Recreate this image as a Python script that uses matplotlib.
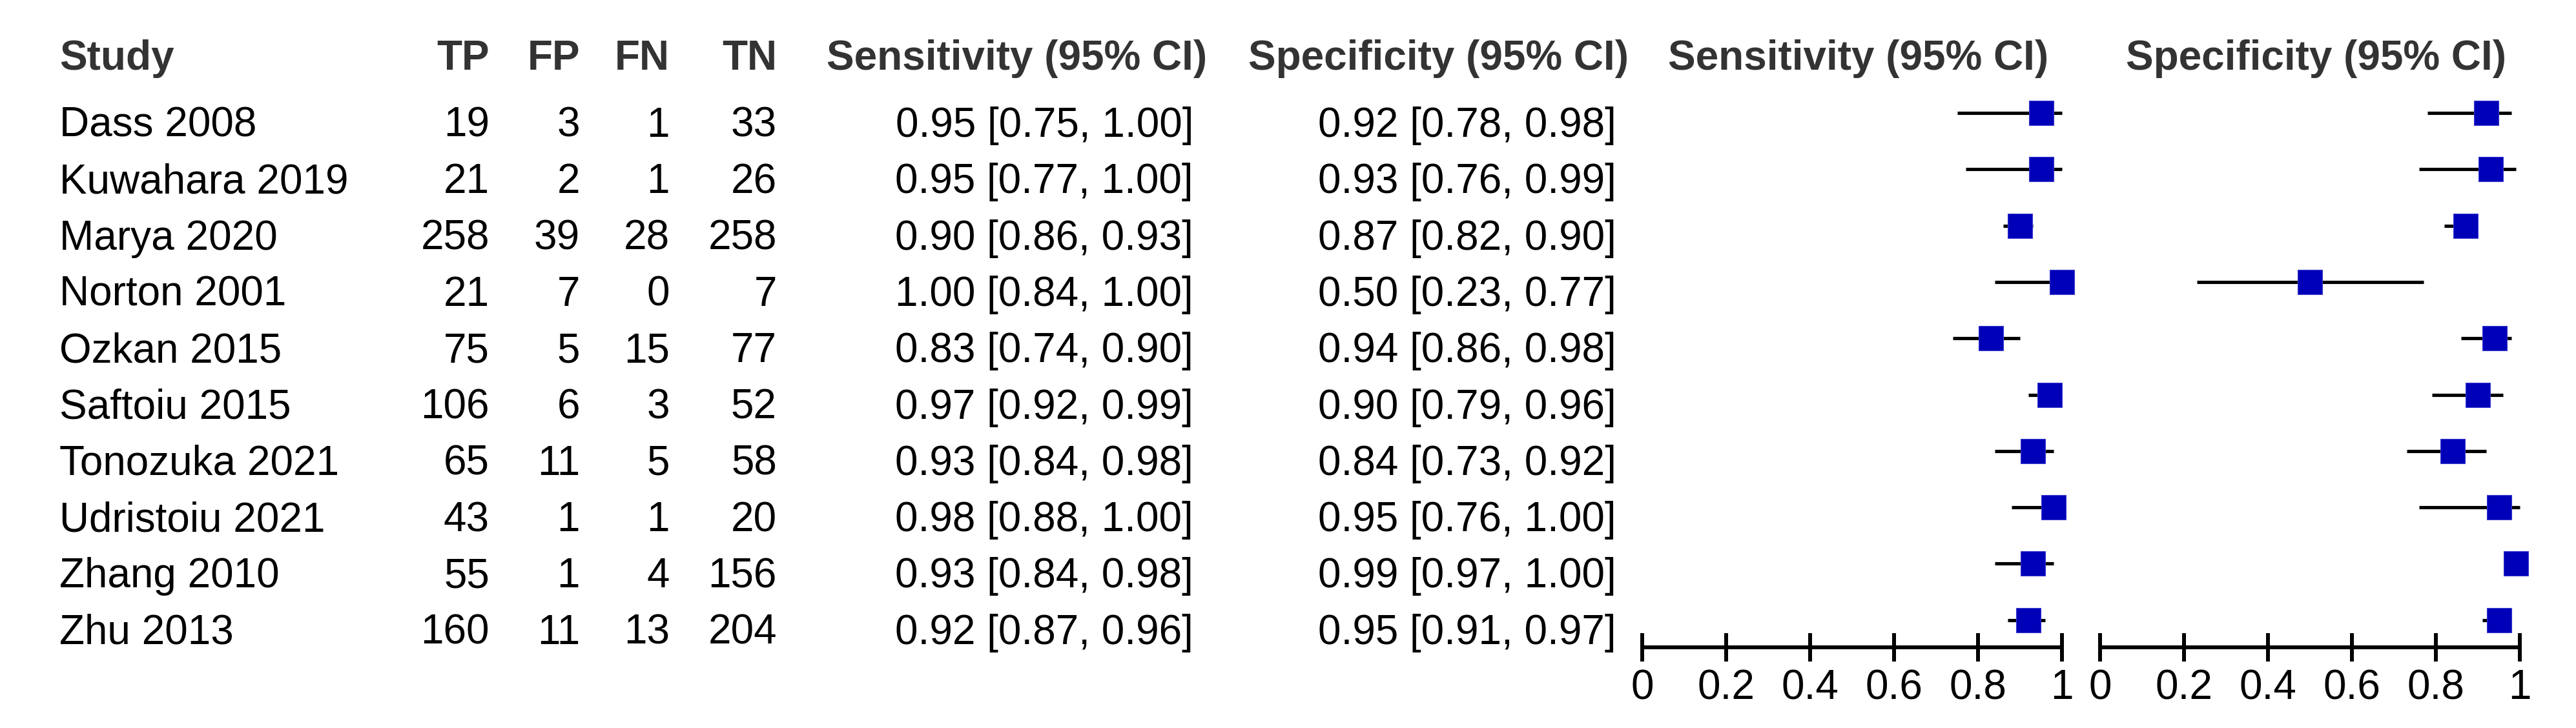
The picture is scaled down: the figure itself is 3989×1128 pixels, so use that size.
import matplotlib
matplotlib.use("Agg")
import matplotlib.pyplot as plt
import matplotlib.ticker as ticker

plt.rcParams['font.family'] = ['Liberation Sans', 'DejaVu Sans']

# data
STUDIES = ['Dass 2008', 'Kuwahara 2019', 'Marya 2020', 'Norton 2001', 'Ozkan 2015',
           'Saftoiu 2015', 'Tonozuka 2021', 'Udristoiu 2021', 'Zhang 2010', 'Zhu 2013']
TP = [19, 21, 258, 21, 75, 106, 65, 43, 55, 160]
FP = [3, 2, 39, 7, 5, 6, 11, 1, 1, 11]
FN = [1, 1, 28, 0, 15, 3, 5, 1, 4, 13]
TN = [33, 26, 258, 7, 77, 52, 58, 20, 156, 204]

SENS = [0.95, 0.95, 0.90, 1.00, 0.83, 0.97, 0.93, 0.98, 0.93, 0.92]
SENS_LO = [0.75, 0.77, 0.86, 0.84, 0.74, 0.92, 0.84, 0.88, 0.84, 0.87]
SENS_HI = [1.00, 1.00, 0.93, 1.00, 0.90, 0.99, 0.98, 1.00, 0.98, 0.96]

SPEC = [0.92, 0.93, 0.87, 0.50, 0.94, 0.90, 0.84, 0.95, 0.99, 0.95]
SPEC_LO = [0.78, 0.76, 0.82, 0.23, 0.86, 0.79, 0.73, 0.76, 0.97, 0.91]
SPEC_HI = [0.98, 0.99, 0.90, 0.77, 0.98, 0.96, 0.92, 1.00, 1.00, 0.97]

TICKS = [0, 0.2, 0.4, 0.6, 0.8, 1]
TICK_LABELS = ['0', '0.2', '0.4', '0.6', '0.8', '1']

W, H = 3989, 1128
DPI = 100
FS = 46
HEADER_COLOR = '#333333'
BOX_COLOR = '#0000b8'

ROW0_MARK = 175.0   # px centre of first forest row
ROW_STEP = 87.3
AXIS_Y = 1003.0     # px of the forest axis line
ROW0_TEXT = 212.0   # baseline of first table row
HEADER_BASE = 108.0


def ci_text(est, lo, hi):
    return f'{est:.2f} [{lo:.2f}, {hi:.2f}]'


fig = plt.figure(figsize=(W / DPI, H / DPI), dpi=DPI)
fig.patch.set_facecolor('white')

# text layer in pixel coordinates
tab = fig.add_axes([0, 0, 1, 1])
tab.set_xlim(0, W)
tab.set_ylim(H, 0)
tab.axis('off')

headers = [
    ('Study', 92, 'left'),
    ('TP', 758, 'right'),
    ('FP', 898, 'right'),
    ('FN', 1037, 'right'),
    ('TN', 1203, 'right'),
    ('Sensitivity (95% CI)', 1280, 'left'),
    ('Specificity (95% CI)', 1933, 'left'),
    ('Sensitivity (95% CI)', 2583, 'left'),
    ('Specificity (95% CI)', 3292, 'left'),
]
for label, x, ha in headers:
    tab.text(x, HEADER_BASE, label, ha=ha, va='baseline', fontsize=FS,
             fontweight='bold', color=HEADER_COLOR)

for i, study in enumerate(STUDIES):
    y = ROW0_TEXT + i * ROW_STEP
    tab.text(92, y, study, ha='left', va='baseline', fontsize=FS)
    for col, x in zip([TP, FP, FN, TN], [758, 898, 1037, 1203]):
        tab.text(x, y, str(col[i]), ha='right', va='baseline', fontsize=FS)
    tab.text(1848, y, ci_text(SENS[i], SENS_LO[i], SENS_HI[i]),
             ha='right', va='baseline', fontsize=FS)
    tab.text(2503, y, ci_text(SPEC[i], SPEC_LO[i], SPEC_HI[i]),
             ha='right', va='baseline', fontsize=FS)


def forest(x0_px, x1_px, est, lo, hi):
    top_px = ROW0_MARK - 0.5 * ROW_STEP
    ax = fig.add_axes([x0_px / W, 1 - AXIS_Y / H,
                       (x1_px - x0_px) / W, (AXIS_Y - top_px) / H])
    ax.set_xlim(0, 1)
    ax.set_ylim((AXIS_Y - ROW0_MARK) / ROW_STEP, -0.5)
    ax.patch.set_alpha(0)
    rows = list(range(len(est)))
    ax.hlines(rows, lo, hi, color='black', linewidth=3.7, clip_on=False, zorder=2)
    ax.plot(est, rows, linestyle='none', marker='s', markersize=27,
            color=BOX_COLOR, markeredgecolor='#3b3bd0', markeredgewidth=0.8,
            clip_on=False, zorder=3)
    for side in ['top', 'left', 'right']:
        ax.spines[side].set_visible(False)
    ax.spines['bottom'].set_linewidth(4.3)
    ax.spines['bottom'].set_capstyle('butt')
    ax.set_yticks([])
    ax.xaxis.set_major_locator(ticker.FixedLocator(TICKS))
    ax.xaxis.set_major_formatter(ticker.FixedFormatter(TICK_LABELS))
    ax.tick_params(axis='x', direction='inout', length=32, width=4.3,
                   labelsize=FS, pad=8, colors='black')
    return ax


forest(2543, 3193, SENS, SENS_LO, SENS_HI)
forest(3252, 3902, SPEC, SPEC_LO, SPEC_HI)

fig.savefig('out.png', dpi=DPI, facecolor='white')
